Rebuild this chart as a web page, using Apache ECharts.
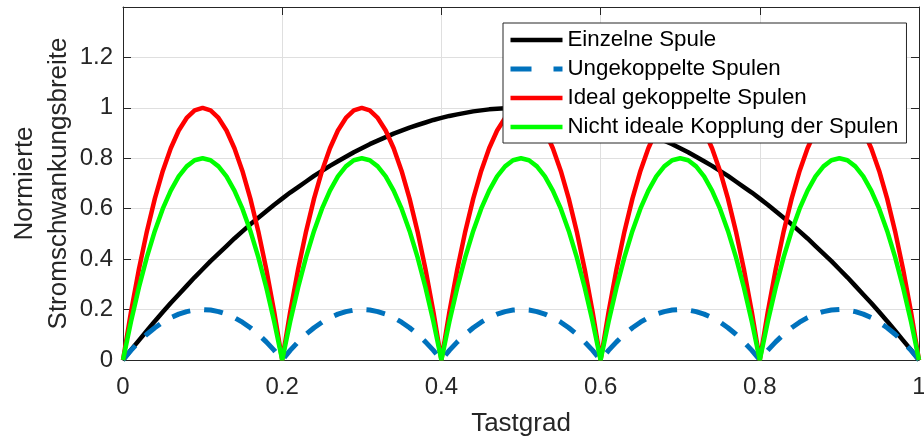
<!DOCTYPE html>
<html>
<head>
<meta charset="utf-8">
<script src="https://cdn.jsdelivr.net/npm/echarts@6/dist/echarts.min.js"></script>
<style>
  html, body { margin: 0; padding: 0; background: #fff; }
  #chart { width: 924px; height: 439px; }
</style>
</head>
<body>
<div id="chart"></div>
<script>
// Tastgrad (x-Werte), Schritt 0.01
const tastgrad = [
  0, 0.01, 0.02, 0.03, 0.04, 0.05, 0.06, 0.07, 0.08, 0.09,
  0.1, 0.11, 0.12, 0.13, 0.14, 0.15, 0.16, 0.17, 0.18, 0.19,
  0.2, 0.21, 0.22, 0.23, 0.24, 0.25, 0.26, 0.27, 0.28, 0.29,
  0.3, 0.31, 0.32, 0.33, 0.34, 0.35, 0.36, 0.37, 0.38, 0.39,
  0.4, 0.41, 0.42, 0.43, 0.44, 0.45, 0.46, 0.47, 0.48, 0.49,
  0.5, 0.51, 0.52, 0.53, 0.54, 0.55, 0.56, 0.57, 0.58, 0.59,
  0.6, 0.61, 0.62, 0.63, 0.64, 0.65, 0.66, 0.67, 0.68, 0.69,
  0.7, 0.71, 0.72, 0.73, 0.74, 0.75, 0.76, 0.77, 0.78, 0.79,
  0.8, 0.81, 0.82, 0.83, 0.84, 0.85, 0.86, 0.87, 0.88, 0.89,
  0.9, 0.91, 0.92, 0.93, 0.94, 0.95, 0.96, 0.97, 0.98, 0.99,
  1
]

// Einzelne Spule
const einzelneSpule = [
  0, 0.040, 0.078, 0.116, 0.154, 0.190, 0.226, 0.260, 0.294, 0.328,
  0.360, 0.392, 0.422, 0.452, 0.482, 0.510, 0.538, 0.564, 0.590, 0.616,
  0.640, 0.664, 0.686, 0.708, 0.730, 0.750, 0.770, 0.788, 0.806, 0.824,
  0.840, 0.856, 0.870, 0.884, 0.898, 0.910, 0.922, 0.932, 0.942, 0.952,
  0.960, 0.968, 0.974, 0.980, 0.986, 0.990, 0.994, 0.996, 0.998, 1.000,
  1.000, 1.000, 0.998, 0.996, 0.994, 0.990, 0.986, 0.980, 0.974, 0.968,
  0.960, 0.952, 0.942, 0.932, 0.922, 0.910, 0.898, 0.884, 0.870, 0.856,
  0.840, 0.824, 0.806, 0.788, 0.770, 0.750, 0.730, 0.708, 0.686, 0.664,
  0.640, 0.616, 0.590, 0.564, 0.538, 0.510, 0.482, 0.452, 0.422, 0.392,
  0.360, 0.328, 0.294, 0.260, 0.226, 0.190, 0.154, 0.116, 0.078, 0.040,
  0
]

// Ungekoppelte Spulen
const ungekoppelt = [
  0, 0.038, 0.072, 0.102, 0.128, 0.150, 0.168, 0.182, 0.192, 0.198,
  0.200, 0.198, 0.192, 0.182, 0.168, 0.150, 0.128, 0.102, 0.072, 0.038,
  0, 0.038, 0.072, 0.102, 0.128, 0.150, 0.168, 0.182, 0.192, 0.198,
  0.200, 0.198, 0.192, 0.182, 0.168, 0.150, 0.128, 0.102, 0.072, 0.038,
  0, 0.038, 0.072, 0.102, 0.128, 0.150, 0.168, 0.182, 0.192, 0.198,
  0.200, 0.198, 0.192, 0.182, 0.168, 0.150, 0.128, 0.102, 0.072, 0.038,
  0, 0.038, 0.072, 0.102, 0.128, 0.150, 0.168, 0.182, 0.192, 0.198,
  0.200, 0.198, 0.192, 0.182, 0.168, 0.150, 0.128, 0.102, 0.072, 0.038,
  0, 0.038, 0.072, 0.102, 0.128, 0.150, 0.168, 0.182, 0.192, 0.198,
  0.200, 0.198, 0.192, 0.182, 0.168, 0.150, 0.128, 0.102, 0.072, 0.038,
  0
]

// Ideal gekoppelte Spulen
const idealGekoppelt = [
  0, 0.19, 0.36, 0.51, 0.64, 0.75, 0.84, 0.91, 0.96, 0.99,
  1.00, 0.99, 0.96, 0.91, 0.84, 0.75, 0.64, 0.51, 0.36, 0.19,
  0, 0.19, 0.36, 0.51, 0.64, 0.75, 0.84, 0.91, 0.96, 0.99,
  1.00, 0.99, 0.96, 0.91, 0.84, 0.75, 0.64, 0.51, 0.36, 0.19,
  0, 0.19, 0.36, 0.51, 0.64, 0.75, 0.84, 0.91, 0.96, 0.99,
  1.00, 0.99, 0.96, 0.91, 0.84, 0.75, 0.64, 0.51, 0.36, 0.19,
  0, 0.19, 0.36, 0.51, 0.64, 0.75, 0.84, 0.91, 0.96, 0.99,
  1.00, 0.99, 0.96, 0.91, 0.84, 0.75, 0.64, 0.51, 0.36, 0.19,
  0, 0.19, 0.36, 0.51, 0.64, 0.75, 0.84, 0.91, 0.96, 0.99,
  1.00, 0.99, 0.96, 0.91, 0.84, 0.75, 0.64, 0.51, 0.36, 0.19,
  0
]

// Nicht ideale Kopplung der Spulen
const nichtIdeal = [
  0, 0.152, 0.288, 0.408, 0.512, 0.600, 0.672, 0.728, 0.768, 0.792,
  0.800, 0.792, 0.768, 0.728, 0.672, 0.600, 0.512, 0.408, 0.288, 0.152,
  0, 0.152, 0.288, 0.408, 0.512, 0.600, 0.672, 0.728, 0.768, 0.792,
  0.800, 0.792, 0.768, 0.728, 0.672, 0.600, 0.512, 0.408, 0.288, 0.152,
  0, 0.152, 0.288, 0.408, 0.512, 0.600, 0.672, 0.728, 0.768, 0.792,
  0.800, 0.792, 0.768, 0.728, 0.672, 0.600, 0.512, 0.408, 0.288, 0.152,
  0, 0.152, 0.288, 0.408, 0.512, 0.600, 0.672, 0.728, 0.768, 0.792,
  0.800, 0.792, 0.768, 0.728, 0.672, 0.600, 0.512, 0.408, 0.288, 0.152,
  0, 0.152, 0.288, 0.408, 0.512, 0.600, 0.672, 0.728, 0.768, 0.792,
  0.800, 0.792, 0.768, 0.728, 0.672, 0.600, 0.512, 0.408, 0.288, 0.152,
  0
]

const legendNames = ['Einzelne Spule', 'Ungekoppelte Spulen', 'Ideal gekoppelte Spulen', 'Nicht ideale Kopplung der Spulen']

const FONT = '"Liberation Sans", Arial, Helvetica, sans-serif'
const AXIS_COLOR = '#262626'
const GRID_COLOR = '#dfdfdf'

const pairs = (ys) => tastgrad.map((x, i) => [x, ys[i]])

const chart = echarts.init(document.getElementById('chart'), null, { renderer: 'canvas' })

// Achsen im MATLAB-Stil: Rahmen ringsum, Ticks innen
const frameX = (pos, show) => ({
  type: 'value',
  position: pos,
  min: 0,
  max: 1,
  interval: 0.2,
  axisLine: { show: true, onZero: false, lineStyle: { color: AXIS_COLOR, width: 1 } },
  axisTick: { show: true, inside: true, length: 8, lineStyle: { color: AXIS_COLOR } },
  axisLabel: { show: show, color: AXIS_COLOR, fontSize: 24, fontFamily: FONT, margin: 15 },
  splitLine: { show: show, lineStyle: { color: GRID_COLOR, width: 1 } }
})

const frameY = (pos, show) => ({
  type: 'value',
  position: pos,
  min: 0,
  max: 1.4,
  interval: 0.2,
  axisLine: { show: true, onZero: false, lineStyle: { color: AXIS_COLOR, width: 1 } },
  axisTick: { show: true, inside: true, length: 8, lineStyle: { color: AXIS_COLOR } },
  axisLabel: {
    show: show,
    color: AXIS_COLOR,
    fontSize: 24,
    fontFamily: FONT,
    margin: 10,
    formatter: (v) => (v > 1.3 ? '' : String(Math.round(v * 10) / 10))
  },
  splitLine: { show: show, lineStyle: { color: GRID_COLOR, width: 1 } }
})

const xMain = frameX('bottom', true)
xMain.name = 'Tastgrad'
xMain.nameLocation = 'middle'
xMain.nameGap = 51
xMain.nameMoveOverlap = false
xMain.nameTextStyle = { color: AXIS_COLOR, fontSize: 26, fontFamily: FONT }

const yMain = frameY('left', true)
yMain.name = 'Normierte\nStromschwankungsbreite'
yMain.nameLocation = 'middle'
yMain.nameRotate = 90
yMain.nameGap = 47
yMain.nameMoveOverlap = false
yMain.nameTextStyle = { color: AXIS_COLOR, fontSize: 26, fontFamily: FONT, lineHeight: 34 }

const option = {
  backgroundColor: '#fff',
  animation: false,
  grid: { left: 123, right: 5, top: 7, bottom: 79, containLabel: false, outerBoundsMode: 'none' },
  legend: {
    data: [
      { name: legendNames[0] },
      { name: legendNames[1], lineStyle: { type: [21, 22], width: 5 } },
      { name: legendNames[2] },
      { name: legendNames[3] }
    ],
    orient: 'vertical',
    left: 503,
    top: 23,
    padding: [6, 8, 5, 5],
    itemGap: 7,
    itemWidth: 52,
    itemHeight: 22,
    backgroundColor: '#fff',
    borderColor: AXIS_COLOR,
    borderWidth: 1,
    borderRadius: 0,
    itemStyle: { opacity: 0 },
    lineStyle: { width: 4.5 },
    textStyle: { color: '#000', fontSize: 22.3, fontFamily: FONT, lineHeight: 22 }
  },
  xAxis: [xMain, frameX('top', false)],
  yAxis: [yMain, frameY('right', false)],
  series: [
    {
      name: legendNames[0],
      type: 'line',
      data: pairs(einzelneSpule),
      symbol: 'none',
      lineStyle: { color: '#000000', width: 4.5 },
      itemStyle: { color: '#000000' }
    },
    {
      name: legendNames[1],
      type: 'line',
      data: pairs(ungekoppelt),
      symbol: 'none',
      lineStyle: { color: '#0072bd', width: 5, type: [19, 14] },
      itemStyle: { color: '#0072bd' }
    },
    {
      name: legendNames[2],
      type: 'line',
      data: pairs(idealGekoppelt),
      symbol: 'none',
      lineStyle: { color: '#ff0000', width: 4.5 },
      itemStyle: { color: '#ff0000' }
    },
    {
      name: legendNames[3],
      type: 'line',
      data: pairs(nichtIdeal),
      symbol: 'none',
      lineStyle: { color: '#00ff00', width: 4.5 },
      itemStyle: { color: '#00ff00' }
    }
  ]
}

chart.setOption(option)
window.addEventListener('resize', () => chart.resize())
</script>
</body>
</html>
